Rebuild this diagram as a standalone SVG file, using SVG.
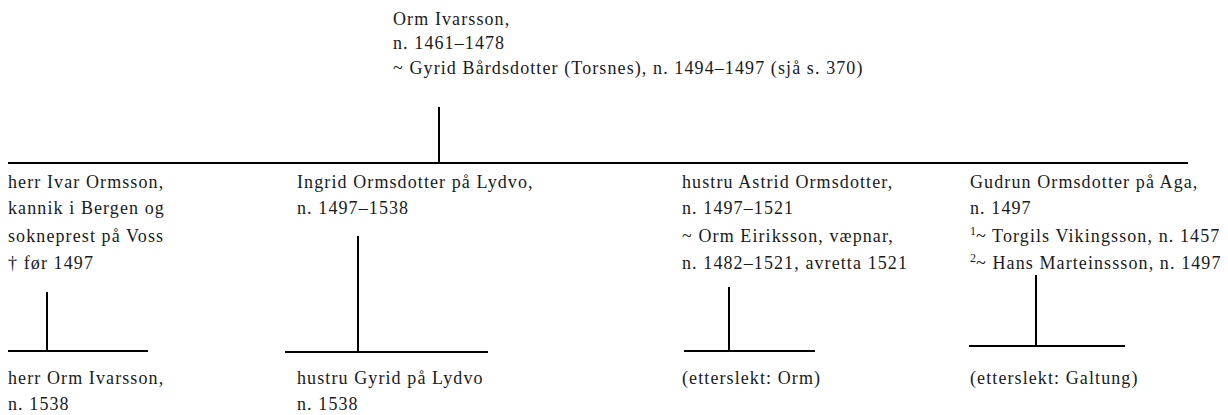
<svg xmlns="http://www.w3.org/2000/svg" width="1228" height="415" viewBox="0 0 1228 415">
<style>
text { font-family: "Liberation Serif", "Times New Roman", serif; font-size: 18px; letter-spacing: 1.1px; fill: #1a1a1a; }
.sup { font-size: 12px; letter-spacing: 0; }
.ln { stroke: #000; stroke-width: 2; fill: none; }
</style>
<rect width="1228" height="415" fill="#fff"/>
<g id="connectors">
<line class="ln" x1="439" y1="107" x2="439" y2="163"/>
<line class="ln" x1="8" y1="163" x2="1188" y2="163"/>
<line class="ln" x1="47" y1="292" x2="47" y2="351"/>
<line class="ln" x1="8" y1="351" x2="148" y2="351"/>
<line class="ln" x1="358" y1="236" x2="358" y2="352"/>
<line class="ln" x1="285" y1="352" x2="488" y2="352"/>
<line class="ln" x1="729" y1="287" x2="729" y2="351"/>
<line class="ln" x1="684" y1="351" x2="815" y2="351"/>
<line class="ln" x1="1036" y1="275" x2="1036" y2="346"/>
<line class="ln" x1="969" y1="346" x2="1125" y2="346"/>
</g>
<g id="orm">
<text x="393" y="25">Orm Ivarsson,</text>
<text x="393" y="49">n. 1461–1478</text>
<text x="393" y="74">~ Gyrid Bårdsdotter (Torsnes), n. 1494–1497 (sjå s. 370)</text>
</g>
<g id="ivar">
<text x="8" y="188">herr Ivar Ormsson,</text>
<text x="8" y="214">kannik i Bergen og</text>
<text x="8" y="242">sokneprest på Voss</text>
<text x="8" y="269">† før 1497</text>
</g>
<g id="ingrid">
<text x="297" y="188">Ingrid Ormsdotter på Lydvo,</text>
<text x="297" y="214">n. 1497–1538</text>
</g>
<g id="astrid">
<text x="682" y="188">hustru Astrid Ormsdotter,</text>
<text x="682" y="214">n. 1497–1521</text>
<text x="682" y="242">~ Orm Eiriksson, væpnar,</text>
<text x="682" y="269">n. 1482–1521, avretta 1521</text>
</g>
<g id="gudrun">
<text x="970" y="188">Gudrun Ormsdotter på Aga,</text>
<text x="970" y="214">n. 1497</text>
<text x="970" y="242"><tspan class="sup" dy="-7">1</tspan><tspan dy="7">~ Torgils Vikingsson, n. 1457</tspan></text>
<text x="970" y="269"><tspan class="sup" dy="-7">2</tspan><tspan dy="7">~ Hans Marteinssson, n. 1497</tspan></text>
</g>
<g id="orm-ivarsson">
<text x="8" y="384">herr Orm Ivarsson,</text>
<text x="8" y="410">n. 1538</text>
</g>
<g id="gyrid">
<text x="297" y="384">hustru Gyrid på Lydvo</text>
<text x="297" y="410">n. 1538</text>
</g>
<g id="etterslekt-orm">
<text x="682" y="384">(etterslekt: Orm)</text>
</g>
<g id="etterslekt-galtung">
<text x="970" y="384">(etterslekt: Galtung)</text>
</g>
</svg>
